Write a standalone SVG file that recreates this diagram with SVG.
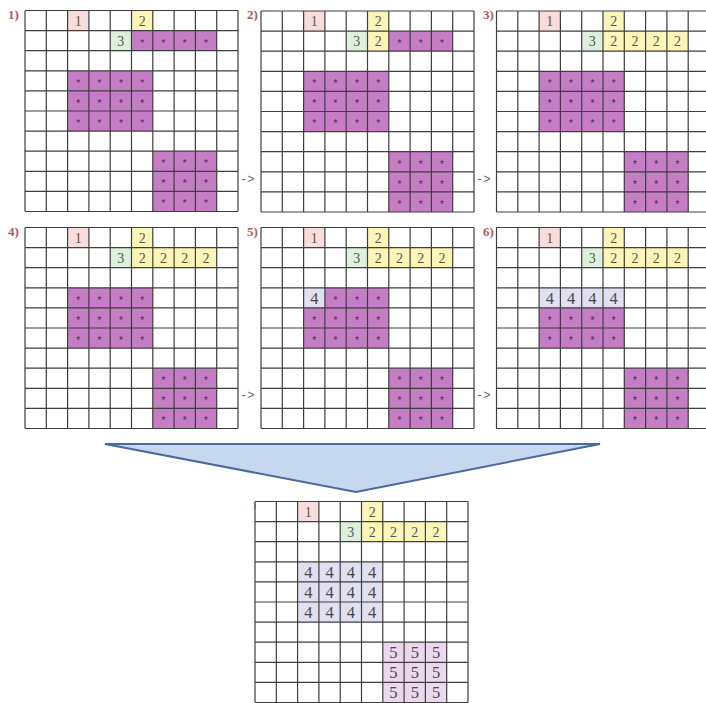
<svg xmlns="http://www.w3.org/2000/svg" xmlns:xlink="http://www.w3.org/1999/xlink" width="706" height="703" viewBox="0 0 706 703">
<style>
.g{fill:none;stroke:#3e3e3e;stroke-width:1.2}
.c1{fill:#f9dcdc}.c2{fill:#fbf6b8}.c3{fill:#ddf0dc}.cp{fill:#c57dc5}.c4{fill:#e0e0f0}.c5{fill:#ecd8ec}
.n{font-family:"Liberation Serif",serif;font-size:14px;fill:#555;text-anchor:middle}
.n4{font-family:"Liberation Serif",serif;font-size:16.5px;fill:#4a4a4a;text-anchor:middle}
.s{font-family:"Liberation Sans",sans-serif;font-size:10px;fill:#4a2a4a;text-anchor:middle}
.lb{font-family:"Liberation Serif",serif;font-size:13px;fill:#b35a5a;font-weight:bold}
.ar{font-family:"Liberation Mono",monospace;font-size:12px;fill:#666}
</style>
<defs>
<path id="grid" class="g" d="M0 0V201M21.3 0V201M42.6 0V201M63.9 0V201M85.2 0V201M106.5 0V201M127.8 0V201M149.1 0V201M170.4 0V201M191.7 0V201M213 0V201M0 0H213M0 20.1H213M0 40.2H213M0 60.3H213M0 80.4H213M0 100.5H213M0 120.6H213M0 140.7H213M0 160.8H213M0 180.9H213M0 201H213"/>
</defs>
<rect width="706" height="703" fill="#fff"/>

<g id="labels">
<text class="lb" x="8" y="19">1)</text>
<text class="lb" x="247" y="19">2)</text>
<text class="lb" x="483" y="19">3)</text>
<text class="lb" x="8" y="236">4)</text>
<text class="lb" x="247" y="236">5)</text>
<text class="lb" x="483" y="236">6)</text>
<text class="lb" x="253" y="508" style="font-size:9px;font-weight:normal">)</text>
</g>

<g id="connectors">
<text class="ar" x="240" y="183">-&gt;</text>
<text class="ar" x="476" y="183">-&gt;</text>
<text class="ar" x="240" y="399">-&gt;</text>
<text class="ar" x="476" y="399">-&gt;</text>
<polygon points="105,444 600,444 356,492" fill="#c6d8ef" stroke="#4a6a9a" stroke-width="2" stroke-linejoin="miter"/>
</g>

<g id="n1" transform="translate(25 10.5)">
<g transform="scale(21.3 20.1)">
<rect class="c1" x="2" y="0" width="1" height="1"/><rect class="c2" x="5" y="0" width="1" height="1"/><rect class="c3" x="4" y="1" width="1" height="1"/>
<rect class="cp" x="5" y="1" width="4" height="1"/><rect class="cp" x="2" y="3" width="4" height="3"/><rect class="cp" x="6" y="7" width="3" height="3"/>
</g>
<use xlink:href="#grid"/>
<text class="n" x="53.25" y="15">1</text><text class="n" x="117.15" y="15">2</text><text class="n" x="95.85" y="35.1">3</text>
<text class="s" x="117.15 138.45 159.75 181.05" y="36">****</text>
<text class="s" x="53.25 74.55 95.85 117.15" y="76.2">****</text>
<text class="s" x="53.25 74.55 95.85 117.15" y="96.3">****</text>
<text class="s" x="53.25 74.55 95.85 117.15" y="116.4">****</text>
<text class="s" x="138.45 159.75 181.05" y="156.6">***</text>
<text class="s" x="138.45 159.75 181.05" y="176.7">***</text>
<text class="s" x="138.45 159.75 181.05" y="196.8">***</text>
</g>

<g id="n2" transform="translate(261 11)">
<g transform="scale(21.3 20.1)">
<rect class="c1" x="2" y="0" width="1" height="1"/><rect class="c2" x="5" y="0" width="1" height="2"/><rect class="c3" x="4" y="1" width="1" height="1"/>
<rect class="cp" x="6" y="1" width="3" height="1"/><rect class="cp" x="2" y="3" width="4" height="3"/><rect class="cp" x="6" y="7" width="3" height="3"/>
</g>
<use xlink:href="#grid"/>
<text class="n" x="53.25" y="15">1</text><text class="n" x="117.15" y="15">2</text><text class="n" x="95.85" y="35.1">3</text><text class="n" x="117.15" y="35.1">2</text>
<text class="s" x="138.45 159.75 181.05" y="36">***</text>
<text class="s" x="53.25 74.55 95.85 117.15" y="76.2">****</text>
<text class="s" x="53.25 74.55 95.85 117.15" y="96.3">****</text>
<text class="s" x="53.25 74.55 95.85 117.15" y="116.4">****</text>
<text class="s" x="138.45 159.75 181.05" y="156.6">***</text>
<text class="s" x="138.45 159.75 181.05" y="176.7">***</text>
<text class="s" x="138.45 159.75 181.05" y="196.8">***</text>
</g>

<g id="n3" transform="translate(496.5 11)">
<g transform="scale(21.3 20.1)">
<rect class="c1" x="2" y="0" width="1" height="1"/><rect class="c2" x="5" y="0" width="1" height="1"/><rect class="c3" x="4" y="1" width="1" height="1"/>
<rect class="c2" x="5" y="1" width="4" height="1"/><rect class="cp" x="2" y="3" width="4" height="3"/><rect class="cp" x="6" y="7" width="3" height="3"/>
</g>
<use xlink:href="#grid"/>
<text class="n" x="53.25" y="15">1</text><text class="n" x="117.15" y="15">2</text><text class="n" x="95.85" y="35.1">3</text>
<text class="n" x="117.15 138.45 159.75 181.05" y="35.1">2222</text>
<text class="s" x="53.25 74.55 95.85 117.15" y="76.2">****</text>
<text class="s" x="53.25 74.55 95.85 117.15" y="96.3">****</text>
<text class="s" x="53.25 74.55 95.85 117.15" y="116.4">****</text>
<text class="s" x="138.45 159.75 181.05" y="156.6">***</text>
<text class="s" x="138.45 159.75 181.05" y="176.7">***</text>
<text class="s" x="138.45 159.75 181.05" y="196.8">***</text>
</g>

<g id="n4" transform="translate(25 227.5)">
<g transform="scale(21.3 20.1)">
<rect class="c1" x="2" y="0" width="1" height="1"/><rect class="c2" x="5" y="0" width="1" height="1"/><rect class="c3" x="4" y="1" width="1" height="1"/>
<rect class="c2" x="5" y="1" width="4" height="1"/><rect class="cp" x="2" y="3" width="4" height="3"/><rect class="cp" x="6" y="7" width="3" height="3"/>
</g>
<use xlink:href="#grid"/>
<text class="n" x="53.25" y="15">1</text><text class="n" x="117.15" y="15">2</text><text class="n" x="95.85" y="35.1">3</text>
<text class="n" x="117.15 138.45 159.75 181.05" y="35.1">2222</text>
<text class="s" x="53.25 74.55 95.85 117.15" y="76.2">****</text>
<text class="s" x="53.25 74.55 95.85 117.15" y="96.3">****</text>
<text class="s" x="53.25 74.55 95.85 117.15" y="116.4">****</text>
<text class="s" x="138.45 159.75 181.05" y="156.6">***</text>
<text class="s" x="138.45 159.75 181.05" y="176.7">***</text>
<text class="s" x="138.45 159.75 181.05" y="196.8">***</text>
</g>

<g id="n5" transform="translate(261 227.5)">
<g transform="scale(21.3 20.1)">
<rect class="c1" x="2" y="0" width="1" height="1"/><rect class="c2" x="5" y="0" width="1" height="1"/><rect class="c3" x="4" y="1" width="1" height="1"/>
<rect class="c2" x="5" y="1" width="4" height="1"/><rect class="c4" x="2" y="3" width="1" height="1"/><rect class="cp" x="3" y="3" width="3" height="1"/><rect class="cp" x="2" y="4" width="4" height="2"/><rect class="cp" x="6" y="7" width="3" height="3"/>
</g>
<use xlink:href="#grid"/>
<text class="n" x="53.25" y="15">1</text><text class="n" x="117.15" y="15">2</text><text class="n" x="95.85" y="35.1">3</text>
<text class="n" x="117.15 138.45 159.75 181.05" y="35.1">2222</text>
<text class="n4" x="53.25" y="76">4</text>
<text class="s" x="74.55 95.85 117.15" y="76.2">***</text>
<text class="s" x="53.25 74.55 95.85 117.15" y="96.3">****</text>
<text class="s" x="53.25 74.55 95.85 117.15" y="116.4">****</text>
<text class="s" x="138.45 159.75 181.05" y="156.6">***</text>
<text class="s" x="138.45 159.75 181.05" y="176.7">***</text>
<text class="s" x="138.45 159.75 181.05" y="196.8">***</text>
</g>

<g id="n6" transform="translate(496.5 227.5)">
<g transform="scale(21.3 20.1)">
<rect class="c1" x="2" y="0" width="1" height="1"/><rect class="c2" x="5" y="0" width="1" height="1"/><rect class="c3" x="4" y="1" width="1" height="1"/>
<rect class="c2" x="5" y="1" width="4" height="1"/><rect class="c4" x="2" y="3" width="4" height="1"/><rect class="cp" x="2" y="4" width="4" height="2"/><rect class="cp" x="6" y="7" width="3" height="3"/>
</g>
<use xlink:href="#grid"/>
<text class="n" x="53.25" y="15">1</text><text class="n" x="117.15" y="15">2</text><text class="n" x="95.85" y="35.1">3</text>
<text class="n" x="117.15 138.45 159.75 181.05" y="35.1">2222</text>
<text class="n4" x="53.25 74.55 95.85 117.15" y="76">4444</text>
<text class="s" x="53.25 74.55 95.85 117.15" y="96.3">****</text>
<text class="s" x="53.25 74.55 95.85 117.15" y="116.4">****</text>
<text class="s" x="138.45 159.75 181.05" y="156.6">***</text>
<text class="s" x="138.45 159.75 181.05" y="176.7">***</text>
<text class="s" x="138.45 159.75 181.05" y="196.8">***</text>
</g>

<g id="n7" transform="translate(255 501.5)">
<g transform="scale(21.3 20.1)">
<rect class="c1" x="2" y="0" width="1" height="1"/><rect class="c2" x="5" y="0" width="1" height="1"/><rect class="c3" x="4" y="1" width="1" height="1"/>
<rect class="c2" x="5" y="1" width="4" height="1"/><rect class="c4" x="2" y="3" width="4" height="3"/><rect class="c5" x="6" y="7" width="3" height="3"/>
</g>
<use xlink:href="#grid"/>
<text class="n" x="53.25" y="15">1</text><text class="n" x="117.15" y="15">2</text><text class="n" x="95.85" y="35.1">3</text>
<text class="n" x="117.15 138.45 159.75 181.05" y="35.1">2222</text>
<text class="n4" x="53.25 74.55 95.85 117.15" y="76">4444</text>
<text class="n4" x="53.25 74.55 95.85 117.15" y="96.1">4444</text>
<text class="n4" x="53.25 74.55 95.85 117.15" y="116.2">4444</text>
<text class="n4" x="138.45 159.75 181.05" y="156.4">555</text>
<text class="n4" x="138.45 159.75 181.05" y="176.5">555</text>
<text class="n4" x="138.45 159.75 181.05" y="196.6">555</text>
</g>
</svg>
